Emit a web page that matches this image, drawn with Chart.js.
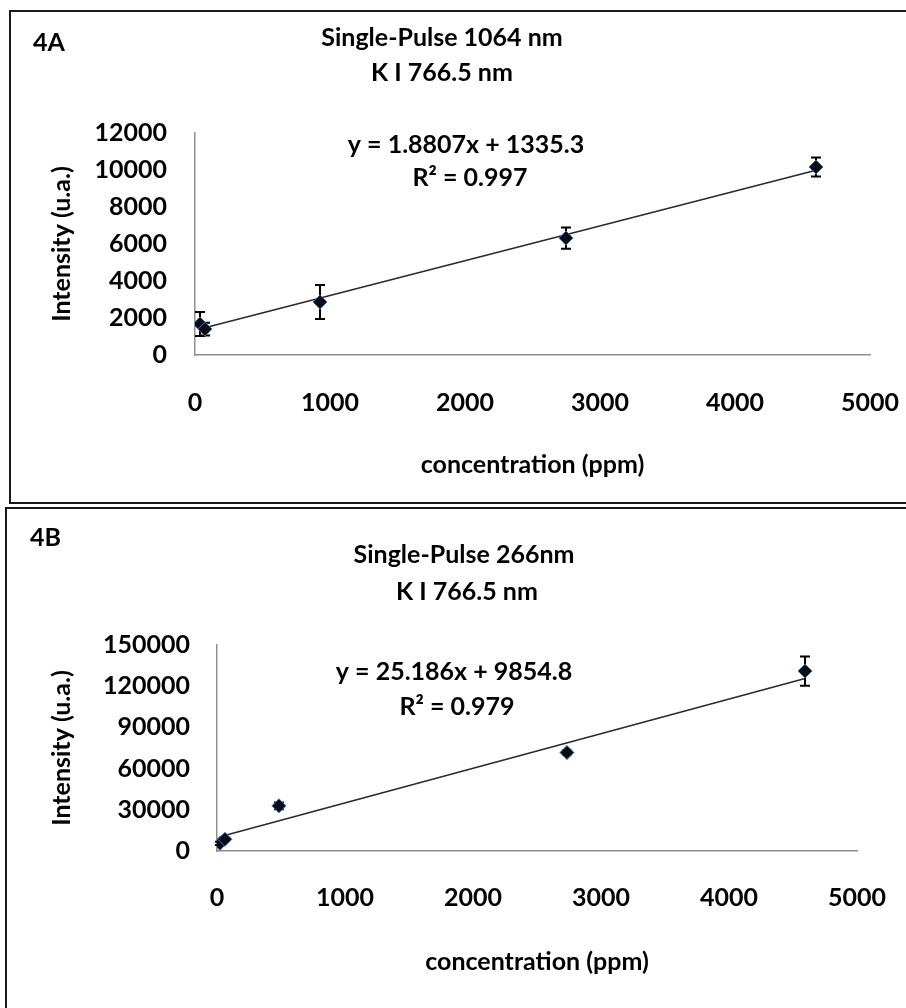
<!DOCTYPE html>
<html>
<head>
<meta charset="utf-8">
<title>K I 766.5 nm calibration curves</title>
<script src="https://cdn.jsdelivr.net/npm/chart.js@4.4.1/dist/chart.umd.min.js"></script>
<style>
  html, body { margin: 0; padding: 0; background: #fff; width: 906px; height: 1008px; overflow: hidden; }
  .frame { position: absolute; border: 2px solid #1a1a1a; box-sizing: border-box; }
  #frameA { left: 9px; top: 10px; width: 920px; height: 494px; }
  #frameB { left: 5px; top: 507px; width: 930px; height: 530px; }
  .wrap { position: absolute; left: 0; width: 906px; }
  #wrapA { top: 0; height: 505px; }
  #wrapB { top: 505px; height: 503px; }
</style>
</head>
<body>
<div class="frame" id="frameA"></div>
<div class="frame" id="frameB"></div>
<div class="wrap" id="wrapA"><canvas id="chartA"></canvas></div>
<div class="wrap" id="wrapB"><canvas id="chartB"></canvas></div>
<script>
// ---- data ----
const xTicks = [0, 1000, 2000, 3000, 4000, 5000];

// Panel 4A: Single-Pulse 1064 nm
const concA = [37, 74, 926, 2748, 4600];
const intensityA = [1680, 1400, 2860, 6320, 10160];
const errorA = [650, 350, 920, 570, 510];
const yTicksA = [0, 2000, 4000, 6000, 8000, 10000, 12000];
const slopeA = 1.8807;
const interceptA = 1335.3;
const r2A = 0.997;

// Panel 4B: Single-Pulse 266 nm
const concB = [23, 62, 484, 2734, 4594];
const intensityB = [5600, 8500, 32900, 71700, 131000];
const errorB = [1200, 1200, 2500, 1500, 10600];
const yTicksB = [0, 30000, 60000, 90000, 120000, 150000];
const slopeB = 25.186;
const interceptB = 9854.8;
const r2B = 0.979;

// ---- styling ----
const FONT = 'Lato, "Open Sans", sans-serif';
const FS = 25;
const boldFont = { family: FONT, size: FS, weight: 'bold', lineHeight: 1.2 };

// vertical error bars with caps, painted under the markers
const errorBars = {
  id: 'errorBars',
  beforeDatasetDraw(chart, args) {
    const ds = chart.data.datasets[args.index];
    if (!ds.errors) return;
    const xs = chart.scales.x, ys = chart.scales.y, ctx = chart.ctx;
    ctx.save();
    ctx.strokeStyle = '#000';
    ctx.lineWidth = 2;
    ds.data.forEach((p, i) => {
      const e = ds.errors[i];
      const px = xs.getPixelForValue(p.x);
      const top = ys.getPixelForValue(p.y + e);
      const bot = ys.getPixelForValue(p.y - e);
      ctx.beginPath();
      ctx.moveTo(px, top); ctx.lineTo(px, bot);
      ctx.moveTo(px - 5, top); ctx.lineTo(px + 5, top);
      ctx.moveTo(px - 5, bot); ctx.lineTo(px + 5, bot);
      ctx.stroke();
    });
    ctx.restore();
  }
};

// panel label, chart title and regression text
const panelText = {
  id: 'panelText',
  afterDraw(chart, args, opts) {
    const ctx = chart.ctx;
    ctx.save();
    ctx.fillStyle = '#000';
    ctx.textBaseline = 'middle';
    ctx.font = `bold ${FS}px ${FONT}`;
    for (const t of opts.items) {
      ctx.textAlign = t.align || 'center';
      ctx.fillText(t.text, t.x, t.y);
    }
    ctx.restore();
  }
};

function trendPoints(conc, slope, intercept) {
  const a = conc[0], b = conc[conc.length - 1];
  return [{ x: a, y: slope * a + intercept }, { x: b, y: slope * b + intercept }];
}

function makeChart(id, conc, intensity, errors, yTicks, slope, intercept, layout, texts) {
  const points = conc.map((c, i) => ({ x: c, y: intensity[i] }));
  return new Chart(document.getElementById(id), {
    type: 'scatter',
    data: {
      datasets: [
        {
          data: points,
          errors: errors,
          order: 1,
          pointStyle: 'rectRot',
          pointRadius: 7,
          pointBackgroundColor: '#0b0b18',
          pointBorderColor: '#3d6da3',
          pointBorderWidth: 1,
          showLine: false
        },
        {
          data: trendPoints(conc, slope, intercept),
          order: 2,
          showLine: true,
          pointRadius: 0,
          borderColor: '#2a2a2a',
          borderWidth: 1.6
        }
      ]
    },
    options: {
      responsive: true,
      maintainAspectRatio: false,
      animation: false,
      devicePixelRatio: 1,
      layout: { padding: layout.padding },
      plugins: {
        legend: { display: false },
        tooltip: { enabled: false },
        panelText: { items: texts }
      },
      scales: {
        x: {
          type: 'linear',
          min: xTicks[0],
          max: xTicks[xTicks.length - 1],
          afterBuildTicks: s => { s.ticks = xTicks.map(v => ({ value: v })); },
          afterFit: s => { s.height = layout.xHeight; s.paddingLeft = 0; s.paddingRight = 0; },
          grid: { display: false, drawTicks: false },
          border: { display: true, color: '#8f8f8f', width: 1.5 },
          ticks: {
            padding: layout.xTickPad,
            color: '#000',
            font: boldFont,
            maxRotation: 0,
            autoSkip: false,
            callback: v => String(v)
          },
          title: { display: true, text: 'concentration (ppm)', color: '#000', font: boldFont, padding: 0 }
        },
        y: {
          type: 'linear',
          min: yTicks[0],
          max: yTicks[yTicks.length - 1],
          afterBuildTicks: s => { s.ticks = yTicks.map(v => ({ value: v })); },
          afterFit: s => { s.width = layout.yWidth; },
          grid: { display: false, drawTicks: false },
          border: { display: true, color: '#8f8f8f', width: 1.5 },
          ticks: {
            padding: layout.yTickPad,
            color: '#000',
            font: boldFont,
            autoSkip: false,
            callback: v => String(v)
          },
          title: { display: true, text: 'Intensity (u.a.)', color: '#000', font: boldFont, padding: 0 }
        }
      }
    },
    plugins: [errorBars, panelText]
  });
}

makeChart('chartA', concA, intensityA, errorA, yTicksA, slopeA, interceptA,
  { padding: { left: 47, top: 133, right: 36, bottom: 25 }, yWidth: 148, xHeight: 125, xTickPad: 33, yTickPad: 28 },
  [
    { text: '4A', x: 33, y: 43, align: 'left' },
    { text: 'Single-Pulse 1064 nm', x: 442, y: 38 },
    { text: 'K I 766.5 nm', x: 442, y: 73 },
    { text: `y = ${slopeA}x + ${interceptA}`, x: 466, y: 145 },
    { text: `R² = ${r2A}`, x: 470, y: 178 }
  ]);

makeChart('chartB', concB, intensityB, errorB, yTicksB, slopeB, interceptB,
  { padding: { left: 47, top: 140, right: 49, bottom: 31 }, yWidth: 170, xHeight: 126, xTickPad: 32, yTickPad: 27 },
  [
    { text: '4B', x: 30, y: 33, align: 'left' },
    { text: 'Single-Pulse 266nm', x: 464, y: 50 },
    { text: 'K I 766.5 nm', x: 467, y: 87 },
    { text: `y = ${slopeB}x + ${interceptB}`, x: 454, y: 167 },
    { text: `R² = ${r2B}`, x: 457, y: 202 }
  ]);
</script>
</body>
</html>
